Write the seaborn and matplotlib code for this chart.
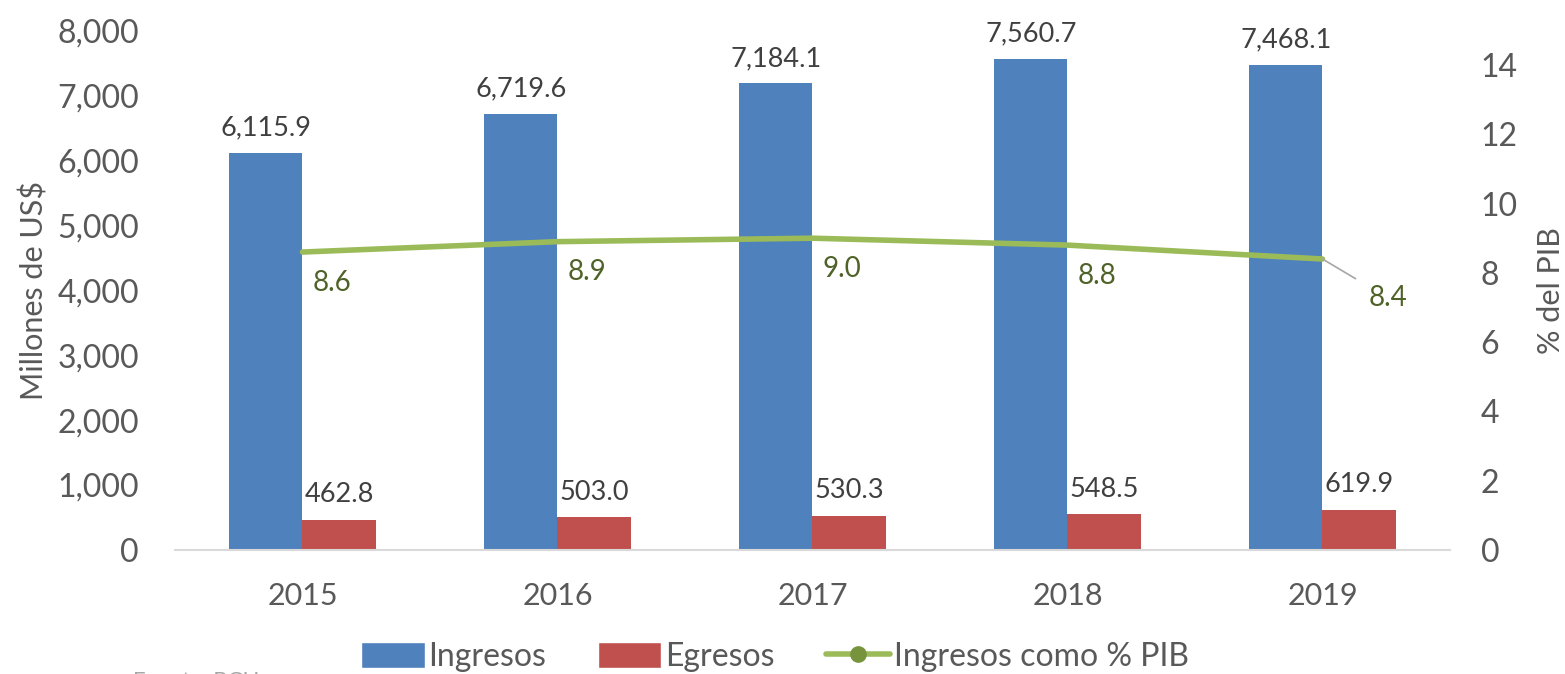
import matplotlib
matplotlib.use("Agg")
import matplotlib.pyplot as plt
import seaborn as sns
import pandas as pd
from matplotlib.lines import Line2D
from matplotlib.patches import Patch

years = ["2015", "2016", "2017", "2018", "2019"]
ingresos = [6115.9, 6719.6, 7184.1, 7560.7, 7468.1]
egresos = [462.8, 503.0, 530.3, 548.5, 619.9]
pct_pib = [8.6, 8.9, 9.0, 8.8, 8.4]

blue = "#4F81BD"
red = "#C0504D"
green = "#9BBB59"
dgreen = "#4F6228"
gray = "#595959"

sns.set_theme(style="white")
plt.rcParams["font.family"] = ["Lato", "DejaVu Sans"]

df = pd.DataFrame({
    "Año": years * 2,
    "Valor": ingresos + egresos,
    "Serie": ["Ingresos"] * 5 + ["Egresos"] * 5,
})

fig = plt.figure(figsize=(15.65, 6.74), dpi=100)
ax = fig.add_axes([0.1118, 0.184, 0.8147, 0.771])
sns.barplot(data=df, x="Año", y="Valor", hue="Serie", palette=[blue, red],
            width=0.575, saturation=1, ax=ax, legend=False, errorbar=None,
            linewidth=0)
ax.set_xlim(-0.5, 4.5)
ax.set_ylim(0, 8000)
ax.set_yticks(range(0, 8001, 1000))
ax.set_yticklabels([f"{v:,}" for v in range(0, 8001, 1000)])
ax.tick_params(axis="y", labelsize=23, colors=gray, length=0, pad=26)
ax.tick_params(axis="x", labelsize=22, colors=gray, length=0, pad=23)
ax.set_xlabel("")
ax.set_ylabel("Millones de US$", fontsize=22, color=gray, labelpad=6)
for s in ["top", "right", "left"]:
    ax.spines[s].set_visible(False)
ax.spines["bottom"].set_color("#D9D9D9")
ax.spines["bottom"].set_linewidth(1.5)

for cont in ax.containers:
    for bar in cont:
        h = bar.get_height()
        ax.annotate(f"{h:,.1f}", (bar.get_x() + bar.get_width() / 2, h),
                    xytext=(0, 9), textcoords="offset points",
                    ha="center", va="bottom", fontsize=19.5, color="#404040")

ax2 = ax.twinx()
sns.lineplot(x=list(range(5)), y=pct_pib, ax=ax2, color=green, linewidth=4,
             legend=False)
ax2.set_ylim(0, 15)
ax2.set_yticks(range(0, 15, 2))
ax2.tick_params(axis="y", labelsize=23, colors=gray, length=0, pad=22)
ax2.set_ylabel("% del PIB", fontsize=22, color=gray, labelpad=14)
for s in ["top", "right", "left", "bottom"]:
    ax2.spines[s].set_visible(False)
ax2.grid(False)
ax.grid(False)

for i, v in enumerate(pct_pib):
    if i < 4:
        ax2.annotate(f"{v:.1f}", (i, v), xytext=(21, -22), textcoords="offset points",
                     ha="center", va="center", fontsize=20, color=dgreen)
    else:
        ax2.annotate(f"{v:.1f}", (i, v), xytext=(47, -28), textcoords="offset points",
                     ha="center", va="center", fontsize=20, color=dgreen,
                     arrowprops=dict(arrowstyle="-", color="#A6A6A6", lw=1.2,
                                     shrinkA=8, shrinkB=0))

handles = [Patch(facecolor=blue, label="Ingresos"),
           Patch(facecolor=red, label="Egresos"),
           Line2D([0], [0], color=green, lw=4, marker="o", markersize=11,
                  markerfacecolor="#77933C", markeredgecolor="#77933C",
                  label="Ingresos como % PIB")]
fig.legend(handles=handles, loc="lower center", bbox_to_anchor=(0.495, -0.04),
           ncol=3, frameon=False, fontsize=23, handlelength=2.0, handleheight=0.9,
           columnspacing=1.6, handletextpad=0.12, labelcolor=gray)

fig.text(0.085, 0.004, "Fuente: BCH", fontsize=16, color="#A6A6A6", va="top")

fig.savefig("out.png", dpi=100)
